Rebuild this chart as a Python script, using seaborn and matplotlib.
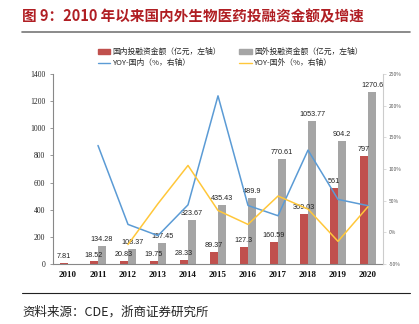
import matplotlib
matplotlib.use("Agg")
import matplotlib.pyplot as plt
import seaborn as sns
import numpy as np
import pandas as pd
from matplotlib.patches import Patch
from matplotlib.lines import Line2D

years = ["2010", "2011", "2012", "2013", "2014", "2015", "2016", "2017", "2018", "2019", "2020"]
domestic = [7.81, 18.52, 20.83, 19.75, 28.33, 89.37, 127.3, 160.59, 369.03, 561, 797]
foreign = [0, 134.28, 108.37, 157.45, 323.67, 435.43, 489.9, 770.61, 1053.77, 904.2, 1270.6]
domestic_labels = ["7.81", "18.52", "20.83", "19.75", "28.33", "89.37", "127.3", "160.59", "369.03", "561", "797"]
foreign_labels = ["", "134.28", "108.37", "157.45", "323.67", "435.43", "489.9", "770.61", "1053.77", "904.2", "1270.6"]
yoy_domestic = [np.nan, 137.1, 12.5, -5.2, 43.4, 215.5, 42.4, 26.2, 129.8, 52.0, 42.1]
yoy_foreign = [np.nan, np.nan, -19.3, 45.3, 105.6, 34.5, 12.5, 57.3, 36.7, -14.2, 40.5]

sns.set_style("white")
plt.rcParams['font.family'] = ['Noto Sans CJK SC', 'DejaVu Sans']

RED = "#C0504D"
GRAY = "#A5A5A5"
BLUE = "#5B9BD5"
YELLOW = "#FFC73A"

fig = plt.figure(figsize=(4.19, 3.24), dpi=100)
ax = fig.add_axes([53/419, 1-264/324, 330/419, 190/324])

df = pd.DataFrame({
    "year": years * 2,
    "value": domestic + foreign,
    "series": ["国内"] * len(years) + ["国外"] * len(years),
})
sns.barplot(data=df, x="year", y="value", hue="series", palette=[RED, GRAY],
            width=0.54, gap=0.0, ax=ax, legend=False, saturation=1,
            edgecolor="none", linewidth=0)

ax.set_xlim(-0.5, 10.5)
ax.set_ylim(0, 1400)
ax.set_yticks(range(0, 1401, 200))
ax.set_xlabel("")
ax.set_ylabel("")

# bar value labels
for cont, labels in zip(ax.containers, [domestic_labels, foreign_labels]):
    for bar in cont:
        cx = bar.get_x() + bar.get_width() / 2
        idx = int(round(cx))
        lab = labels[idx]
        h = bar.get_height()
        if lab:
            ax.text(cx, h + 22, lab, ha="center", va="bottom",
                    fontsize=5.2, family="Liberation Sans", color="#222222")

for s in ["top", "right"]:
    ax.spines[s].set_visible(False)
ax.spines["left"].set_color("#888888")
ax.spines["bottom"].set_color("#888888")
ax.spines["left"].set_linewidth(0.8)
ax.spines["bottom"].set_linewidth(0.8)

ax.tick_params(axis="y", which="major", length=2.5, width=0.6, color="#888888", pad=3,
               labelsize=5.5, labelcolor="#222222", direction="out")
for t in ax.get_yticklabels():
    t.set_family("Liberation Serif")
ax.tick_params(axis="x", which="major", length=0, pad=5, labelsize=6.5, labelcolor="#111111")
for t in ax.get_xticklabels():
    t.set_family("Liberation Serif")
    t.set_fontweight("bold")
ax.set_xticks(np.arange(-0.5, 10.6, 1), minor=True)
ax.tick_params(axis="x", which="minor", length=2.5, width=0.6, color="#888888", direction="out")

ax2 = ax.twinx()
x = np.arange(len(years))
sns.lineplot(x=x, y=yoy_domestic, color=BLUE, lw=1.1, ax=ax2)
sns.lineplot(x=x, y=yoy_foreign, color=YELLOW, lw=1.1, ax=ax2)
ax2.set_ylim(-50, 250)
ax2.set_yticks(range(-50, 251, 50))
ax2.set_yticklabels([f"{v}%" for v in range(-50, 251, 50)])
ax2.set_xlim(-0.5, 10.5)
for s in ["top", "left", "bottom"]:
    ax2.spines[s].set_visible(False)
ax2.spines["right"].set_color("#CCCCCC")
ax2.spines["right"].set_linewidth(0.8)
ax2.tick_params(axis="y", length=2, width=0.5, color="#CCCCCC", pad=2, labelsize=3.5,
                labelcolor="#555555", direction="out")

# legend
handles = [Patch(color=RED), Patch(color=GRAY),
           Line2D([], [], color=BLUE, lw=1), Line2D([], [], color=YELLOW, lw=1)]
labels = ["国内投融资金额（亿元，左轴）", "国外投融资金额（亿元，左轴）",
          "YOY-国内（%，右轴）", "YOY-国外（%，右轴）"]
order = [0, 2, 1, 3]
fig.legend([handles[i] for i in order], [labels[i] for i in order], ncol=2,
           loc="upper left", bbox_to_anchor=(98/419, 1-48/324), frameon=False,
           fontsize=5.6, handlelength=1.6, handleheight=0.6, handletextpad=0.3,
           columnspacing=2.3, labelspacing=0.4, borderaxespad=0, borderpad=0)

# title and source
fig.text(22/419, 1-16/324, "图 9：2010 年以来国内外生物医药投融资金额及增速", fontsize=10.5,
         fontweight="bold", color="#B01E23", va="center", ha="left")
fig.add_artist(Line2D([22/419, 410/419], [1-32/324, 1-32/324], color="#777777", lw=1.2,
                      transform=fig.transFigure))
fig.add_artist(Line2D([22/419, 410/419], [1-293/324, 1-293/324], color="#222222", lw=0.8,
                      transform=fig.transFigure))
fig.text(22/419, 1-312/324, "资料来源：CDE，浙商证券研究所", fontsize=9, color="#222222",
         va="center", ha="left")

fig.savefig("out.png", dpi=100)
